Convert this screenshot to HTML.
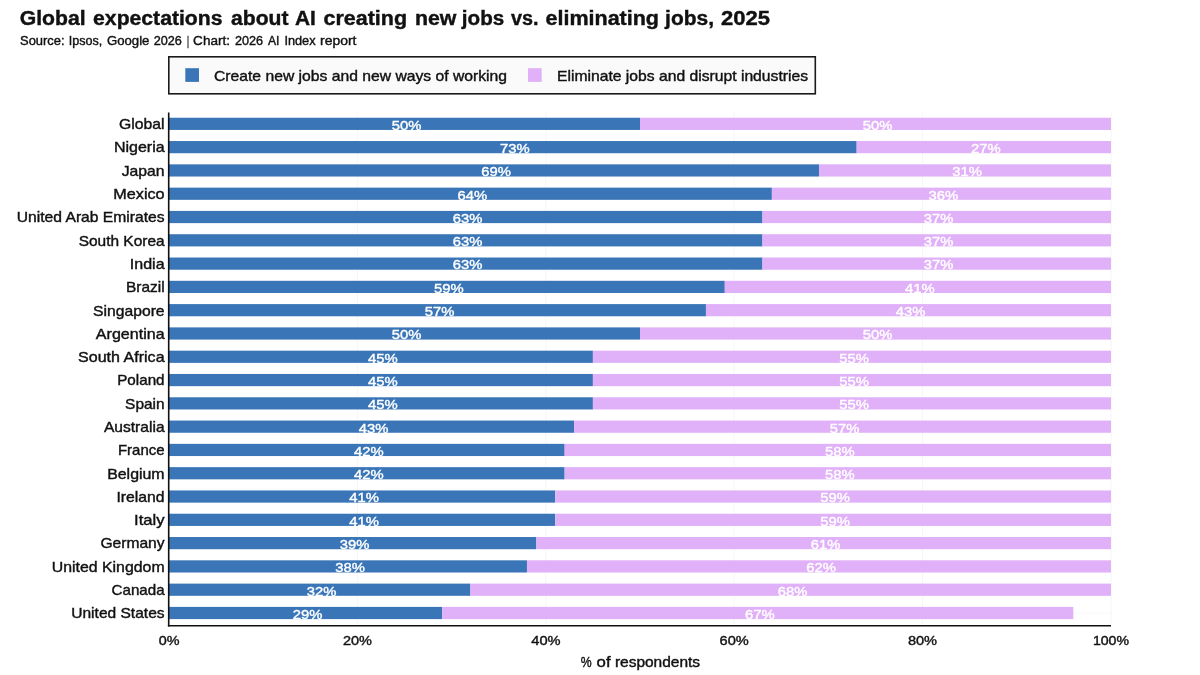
<!DOCTYPE html>
<html lang="en"><head><meta charset="utf-8"><title>Global expectations about AI creating new jobs vs. eliminating jobs, 2025</title>
<style>html,body{margin:0;padding:0;background:#fff}body{width:1200px;height:675px;overflow:hidden}svg{display:block;filter:blur(.35px)}text{font-family:"Liberation Sans",sans-serif;fill:#111;stroke:#111;stroke-width:.4px}.v{fill:#fff;stroke:#fff;font-size:13.6px;text-anchor:middle}.c{font-size:14.6px;text-anchor:end}.t{font-size:14px;text-anchor:middle}</style></head><body>
<svg width="1200" height="675" viewBox="0 0 1200 675">
<rect width="1200" height="675" fill="#fff"/>
<text y="24.6" font-size="20" font-weight="bold"><tspan x="19.75" textLength="65.86" lengthAdjust="spacingAndGlyphs">Global</tspan> <tspan x="93.10" textLength="129.41" lengthAdjust="spacingAndGlyphs">expectations</tspan> <tspan x="231.00" textLength="57.49" lengthAdjust="spacingAndGlyphs">about</tspan> <tspan x="295.00" textLength="20.80" lengthAdjust="spacingAndGlyphs">AI</tspan> <tspan x="323.50" textLength="83.50" lengthAdjust="spacingAndGlyphs">creating</tspan> <tspan x="415.00" textLength="41.45" lengthAdjust="spacingAndGlyphs">new</tspan> <tspan x="461.83" textLength="42.36" lengthAdjust="spacingAndGlyphs">jobs</tspan> <tspan x="511.00" textLength="27.50" lengthAdjust="spacingAndGlyphs">vs.</tspan> <tspan x="545.50" textLength="113.51" lengthAdjust="spacingAndGlyphs">eliminating</tspan> <tspan x="665.13" textLength="48.85" lengthAdjust="spacingAndGlyphs">jobs,</tspan> <tspan x="721.00" textLength="48.99" lengthAdjust="spacingAndGlyphs">2025</tspan></text>
<text y="44.7" font-size="13" ><tspan x="20.00" textLength="44.60" lengthAdjust="spacingAndGlyphs">Source:</tspan> <tspan x="68.75" textLength="33.50" lengthAdjust="spacingAndGlyphs">Ipsos,</tspan> <tspan x="106.90" textLength="42.50" lengthAdjust="spacingAndGlyphs">Google</tspan> <tspan x="153.75" textLength="28.15" lengthAdjust="spacingAndGlyphs">2026</tspan> <tspan x="187.00" textLength="2.00" lengthAdjust="spacingAndGlyphs">|</tspan> <tspan x="193.10" textLength="36.90" lengthAdjust="spacingAndGlyphs">Chart:</tspan> <tspan x="235.00" textLength="28.10" lengthAdjust="spacingAndGlyphs">2026</tspan> <tspan x="267.90" textLength="11.50" lengthAdjust="spacingAndGlyphs">AI</tspan> <tspan x="284.40" textLength="31.20" lengthAdjust="spacingAndGlyphs">Index</tspan> <tspan x="320.00" textLength="36.40" lengthAdjust="spacingAndGlyphs">report</tspan></text>
<rect x="168.8" y="56.8" width="646.5" height="37" fill="#fafafa" stroke="#1a1a1a" stroke-width="1.6"/>
<rect x="185.3" y="68.2" width="13.7" height="13.7" fill="#3a76b7"/>
<text x="214" y="81" font-size="15" textLength="293" lengthAdjust="spacingAndGlyphs">Create new jobs and new ways of working</text>
<rect x="528" y="68.2" width="13.7" height="13.7" fill="#e0b0f8"/>
<text x="557" y="81" font-size="15" textLength="251" lengthAdjust="spacingAndGlyphs">Eliminate jobs and disrupt industries</text>
<line x1="357.4" y1="112.4" x2="357.4" y2="625.5" stroke="#f6f6f6" stroke-width="1"/>
<line x1="545.8" y1="112.4" x2="545.8" y2="625.5" stroke="#f6f6f6" stroke-width="1"/>
<line x1="734.2" y1="112.4" x2="734.2" y2="625.5" stroke="#f6f6f6" stroke-width="1"/>
<line x1="922.6" y1="112.4" x2="922.6" y2="625.5" stroke="#f6f6f6" stroke-width="1"/>
<line x1="1111.0" y1="112.4" x2="1111.0" y2="625.5" stroke="#f6f6f6" stroke-width="1"/>
<line x1="169.0" y1="123.8" x2="1111.0" y2="123.8" stroke="#f9f9f9" stroke-width="1"/>
<line x1="169.0" y1="147.1" x2="1111.0" y2="147.1" stroke="#f9f9f9" stroke-width="1"/>
<line x1="169.0" y1="170.4" x2="1111.0" y2="170.4" stroke="#f9f9f9" stroke-width="1"/>
<line x1="169.0" y1="193.7" x2="1111.0" y2="193.7" stroke="#f9f9f9" stroke-width="1"/>
<line x1="169.0" y1="217.0" x2="1111.0" y2="217.0" stroke="#f9f9f9" stroke-width="1"/>
<line x1="169.0" y1="240.3" x2="1111.0" y2="240.3" stroke="#f9f9f9" stroke-width="1"/>
<line x1="169.0" y1="263.6" x2="1111.0" y2="263.6" stroke="#f9f9f9" stroke-width="1"/>
<line x1="169.0" y1="286.9" x2="1111.0" y2="286.9" stroke="#f9f9f9" stroke-width="1"/>
<line x1="169.0" y1="310.2" x2="1111.0" y2="310.2" stroke="#f9f9f9" stroke-width="1"/>
<line x1="169.0" y1="333.5" x2="1111.0" y2="333.5" stroke="#f9f9f9" stroke-width="1"/>
<line x1="169.0" y1="356.8" x2="1111.0" y2="356.8" stroke="#f9f9f9" stroke-width="1"/>
<line x1="169.0" y1="380.1" x2="1111.0" y2="380.1" stroke="#f9f9f9" stroke-width="1"/>
<line x1="169.0" y1="403.4" x2="1111.0" y2="403.4" stroke="#f9f9f9" stroke-width="1"/>
<line x1="169.0" y1="426.7" x2="1111.0" y2="426.7" stroke="#f9f9f9" stroke-width="1"/>
<line x1="169.0" y1="450.0" x2="1111.0" y2="450.0" stroke="#f9f9f9" stroke-width="1"/>
<line x1="169.0" y1="473.2" x2="1111.0" y2="473.2" stroke="#f9f9f9" stroke-width="1"/>
<line x1="169.0" y1="496.5" x2="1111.0" y2="496.5" stroke="#f9f9f9" stroke-width="1"/>
<line x1="169.0" y1="519.8" x2="1111.0" y2="519.8" stroke="#f9f9f9" stroke-width="1"/>
<line x1="169.0" y1="543.1" x2="1111.0" y2="543.1" stroke="#f9f9f9" stroke-width="1"/>
<line x1="169.0" y1="566.4" x2="1111.0" y2="566.4" stroke="#f9f9f9" stroke-width="1"/>
<line x1="169.0" y1="589.7" x2="1111.0" y2="589.7" stroke="#f9f9f9" stroke-width="1"/>
<line x1="169.0" y1="613.0" x2="1111.0" y2="613.0" stroke="#f9f9f9" stroke-width="1"/>
<rect x="169.0" y="117.75" width="471.00" height="12.20" fill="#3a76b7"/>
<rect x="640.00" y="117.75" width="471.00" height="12.20" fill="#e0b0f8"/>
<text class="c" x="164.6" y="129.2" textLength="45.53" lengthAdjust="spacingAndGlyphs">Global</text>
<text class="v" x="406.5" y="129.7" textLength="29.67" lengthAdjust="spacingAndGlyphs">50%</text>
<text class="v" x="877.5" y="129.7" textLength="29.67" lengthAdjust="spacingAndGlyphs">50%</text>
<rect x="169.0" y="141.04" width="687.66" height="12.20" fill="#3a76b7"/>
<rect x="856.66" y="141.04" width="254.34" height="12.20" fill="#e0b0f8"/>
<text class="c" x="164.6" y="152.4" textLength="50.70" lengthAdjust="spacingAndGlyphs">Nigeria</text>
<text class="v" x="514.8" y="152.9" textLength="29.67" lengthAdjust="spacingAndGlyphs">73%</text>
<text class="v" x="985.8" y="152.9" textLength="29.67" lengthAdjust="spacingAndGlyphs">27%</text>
<rect x="169.0" y="164.34" width="649.98" height="12.20" fill="#3a76b7"/>
<rect x="818.98" y="164.34" width="292.02" height="12.20" fill="#e0b0f8"/>
<text class="c" x="164.6" y="175.7" textLength="42.91" lengthAdjust="spacingAndGlyphs">Japan</text>
<text class="v" x="496.0" y="176.2" textLength="29.67" lengthAdjust="spacingAndGlyphs">69%</text>
<text class="v" x="967.0" y="176.2" textLength="29.67" lengthAdjust="spacingAndGlyphs">31%</text>
<rect x="169.0" y="187.63" width="602.88" height="12.20" fill="#3a76b7"/>
<rect x="771.88" y="187.63" width="339.12" height="12.20" fill="#e0b0f8"/>
<text class="c" x="164.6" y="199.0" textLength="51.31" lengthAdjust="spacingAndGlyphs">Mexico</text>
<text class="v" x="472.4" y="199.5" textLength="29.67" lengthAdjust="spacingAndGlyphs">64%</text>
<text class="v" x="943.4" y="199.5" textLength="29.67" lengthAdjust="spacingAndGlyphs">36%</text>
<rect x="169.0" y="210.92" width="593.46" height="12.20" fill="#3a76b7"/>
<rect x="762.46" y="210.92" width="348.54" height="12.20" fill="#e0b0f8"/>
<text class="c" x="164.6" y="222.3" textLength="147.83" lengthAdjust="spacingAndGlyphs">United Arab Emirates</text>
<text class="v" x="467.7" y="222.8" textLength="29.67" lengthAdjust="spacingAndGlyphs">63%</text>
<text class="v" x="938.7" y="222.8" textLength="29.67" lengthAdjust="spacingAndGlyphs">37%</text>
<rect x="169.0" y="234.22" width="593.46" height="12.20" fill="#3a76b7"/>
<rect x="762.46" y="234.22" width="348.54" height="12.20" fill="#e0b0f8"/>
<text class="c" x="164.6" y="245.6" textLength="85.90" lengthAdjust="spacingAndGlyphs">South Korea</text>
<text class="v" x="467.7" y="246.1" textLength="29.67" lengthAdjust="spacingAndGlyphs">63%</text>
<text class="v" x="938.7" y="246.1" textLength="29.67" lengthAdjust="spacingAndGlyphs">37%</text>
<rect x="169.0" y="257.51" width="593.46" height="12.20" fill="#3a76b7"/>
<rect x="762.46" y="257.51" width="348.54" height="12.20" fill="#e0b0f8"/>
<text class="c" x="164.6" y="268.9" textLength="34.80" lengthAdjust="spacingAndGlyphs">India</text>
<text class="v" x="467.7" y="269.4" textLength="29.67" lengthAdjust="spacingAndGlyphs">63%</text>
<text class="v" x="938.7" y="269.4" textLength="29.67" lengthAdjust="spacingAndGlyphs">37%</text>
<rect x="169.0" y="280.80" width="555.78" height="12.20" fill="#3a76b7"/>
<rect x="724.78" y="280.80" width="386.22" height="12.20" fill="#e0b0f8"/>
<text class="c" x="164.6" y="292.2" textLength="38.63" lengthAdjust="spacingAndGlyphs">Brazil</text>
<text class="v" x="448.9" y="292.7" textLength="29.67" lengthAdjust="spacingAndGlyphs">59%</text>
<text class="v" x="919.9" y="292.7" textLength="29.67" lengthAdjust="spacingAndGlyphs">41%</text>
<rect x="169.0" y="304.09" width="536.94" height="12.20" fill="#3a76b7"/>
<rect x="705.94" y="304.09" width="405.06" height="12.20" fill="#e0b0f8"/>
<text class="c" x="164.6" y="315.5" textLength="71.46" lengthAdjust="spacingAndGlyphs">Singapore</text>
<text class="v" x="439.5" y="316.0" textLength="29.67" lengthAdjust="spacingAndGlyphs">57%</text>
<text class="v" x="910.5" y="316.0" textLength="29.67" lengthAdjust="spacingAndGlyphs">43%</text>
<rect x="169.0" y="327.39" width="471.00" height="12.20" fill="#3a76b7"/>
<rect x="640.00" y="327.39" width="471.00" height="12.20" fill="#e0b0f8"/>
<text class="c" x="164.6" y="338.8" textLength="68.71" lengthAdjust="spacingAndGlyphs">Argentina</text>
<text class="v" x="406.5" y="339.3" textLength="29.67" lengthAdjust="spacingAndGlyphs">50%</text>
<text class="v" x="877.5" y="339.3" textLength="29.67" lengthAdjust="spacingAndGlyphs">50%</text>
<rect x="169.0" y="350.68" width="423.90" height="12.20" fill="#3a76b7"/>
<rect x="592.90" y="350.68" width="518.10" height="12.20" fill="#e0b0f8"/>
<text class="c" x="164.6" y="362.1" textLength="86.54" lengthAdjust="spacingAndGlyphs">South Africa</text>
<text class="v" x="382.9" y="362.6" textLength="29.67" lengthAdjust="spacingAndGlyphs">45%</text>
<text class="v" x="854.0" y="362.6" textLength="29.67" lengthAdjust="spacingAndGlyphs">55%</text>
<rect x="169.0" y="373.97" width="423.90" height="12.20" fill="#3a76b7"/>
<rect x="592.90" y="373.97" width="518.10" height="12.20" fill="#e0b0f8"/>
<text class="c" x="164.6" y="385.4" textLength="47.41" lengthAdjust="spacingAndGlyphs">Poland</text>
<text class="v" x="382.9" y="385.9" textLength="29.67" lengthAdjust="spacingAndGlyphs">45%</text>
<text class="v" x="854.0" y="385.9" textLength="29.67" lengthAdjust="spacingAndGlyphs">55%</text>
<rect x="169.0" y="397.27" width="423.90" height="12.20" fill="#3a76b7"/>
<rect x="592.90" y="397.27" width="518.10" height="12.20" fill="#e0b0f8"/>
<text class="c" x="164.6" y="408.7" textLength="39.52" lengthAdjust="spacingAndGlyphs">Spain</text>
<text class="v" x="382.9" y="409.2" textLength="29.67" lengthAdjust="spacingAndGlyphs">45%</text>
<text class="v" x="854.0" y="409.2" textLength="29.67" lengthAdjust="spacingAndGlyphs">55%</text>
<rect x="169.0" y="420.56" width="405.06" height="12.20" fill="#3a76b7"/>
<rect x="574.06" y="420.56" width="536.94" height="12.20" fill="#e0b0f8"/>
<text class="c" x="164.6" y="432.0" textLength="60.69" lengthAdjust="spacingAndGlyphs">Australia</text>
<text class="v" x="373.5" y="432.5" textLength="29.67" lengthAdjust="spacingAndGlyphs">43%</text>
<text class="v" x="844.5" y="432.5" textLength="29.67" lengthAdjust="spacingAndGlyphs">57%</text>
<rect x="169.0" y="443.85" width="395.64" height="12.20" fill="#3a76b7"/>
<rect x="564.64" y="443.85" width="546.36" height="12.20" fill="#e0b0f8"/>
<text class="c" x="164.6" y="455.3" textLength="46.68" lengthAdjust="spacingAndGlyphs">France</text>
<text class="v" x="368.8" y="455.8" textLength="29.67" lengthAdjust="spacingAndGlyphs">42%</text>
<text class="v" x="839.8" y="455.8" textLength="29.67" lengthAdjust="spacingAndGlyphs">58%</text>
<rect x="169.0" y="467.14" width="395.64" height="12.20" fill="#3a76b7"/>
<rect x="564.64" y="467.14" width="546.36" height="12.20" fill="#e0b0f8"/>
<text class="c" x="164.6" y="478.5" textLength="57.44" lengthAdjust="spacingAndGlyphs">Belgium</text>
<text class="v" x="368.8" y="479.0" textLength="29.67" lengthAdjust="spacingAndGlyphs">42%</text>
<text class="v" x="839.8" y="479.0" textLength="29.67" lengthAdjust="spacingAndGlyphs">58%</text>
<rect x="169.0" y="490.44" width="386.22" height="12.20" fill="#3a76b7"/>
<rect x="555.22" y="490.44" width="555.78" height="12.20" fill="#e0b0f8"/>
<text class="c" x="164.6" y="501.8" textLength="48.16" lengthAdjust="spacingAndGlyphs">Ireland</text>
<text class="v" x="364.1" y="502.3" textLength="29.67" lengthAdjust="spacingAndGlyphs">41%</text>
<text class="v" x="835.1" y="502.3" textLength="29.67" lengthAdjust="spacingAndGlyphs">59%</text>
<rect x="169.0" y="513.73" width="386.22" height="12.20" fill="#3a76b7"/>
<rect x="555.22" y="513.73" width="555.78" height="12.20" fill="#e0b0f8"/>
<text class="c" x="164.6" y="525.1" textLength="30.54" lengthAdjust="spacingAndGlyphs">Italy</text>
<text class="v" x="364.1" y="525.6" textLength="29.67" lengthAdjust="spacingAndGlyphs">41%</text>
<text class="v" x="835.1" y="525.6" textLength="29.67" lengthAdjust="spacingAndGlyphs">59%</text>
<rect x="169.0" y="537.02" width="367.38" height="12.20" fill="#3a76b7"/>
<rect x="536.38" y="537.02" width="574.62" height="12.20" fill="#e0b0f8"/>
<text class="c" x="164.6" y="548.4" textLength="64.15" lengthAdjust="spacingAndGlyphs">Germany</text>
<text class="v" x="354.7" y="548.9" textLength="29.67" lengthAdjust="spacingAndGlyphs">39%</text>
<text class="v" x="825.7" y="548.9" textLength="29.67" lengthAdjust="spacingAndGlyphs">61%</text>
<rect x="169.0" y="560.32" width="357.96" height="12.20" fill="#3a76b7"/>
<rect x="526.96" y="560.32" width="584.04" height="12.20" fill="#e0b0f8"/>
<text class="c" x="164.6" y="571.7" textLength="112.81" lengthAdjust="spacingAndGlyphs">United Kingdom</text>
<text class="v" x="350.0" y="572.2" textLength="29.67" lengthAdjust="spacingAndGlyphs">38%</text>
<text class="v" x="821.0" y="572.2" textLength="29.67" lengthAdjust="spacingAndGlyphs">62%</text>
<rect x="169.0" y="583.61" width="301.44" height="12.20" fill="#3a76b7"/>
<rect x="470.44" y="583.61" width="640.56" height="12.20" fill="#e0b0f8"/>
<text class="c" x="164.6" y="595.0" textLength="53.07" lengthAdjust="spacingAndGlyphs">Canada</text>
<text class="v" x="321.7" y="595.5" textLength="29.67" lengthAdjust="spacingAndGlyphs">32%</text>
<text class="v" x="792.7" y="595.5" textLength="29.67" lengthAdjust="spacingAndGlyphs">68%</text>
<rect x="169.0" y="606.90" width="273.18" height="12.20" fill="#3a76b7"/>
<rect x="442.18" y="606.90" width="631.14" height="12.20" fill="#e0b0f8"/>
<text class="c" x="164.6" y="618.3" textLength="93.38" lengthAdjust="spacingAndGlyphs">United States</text>
<text class="v" x="307.6" y="618.8" textLength="29.67" lengthAdjust="spacingAndGlyphs">29%</text>
<text class="v" x="759.8" y="618.8" textLength="29.67" lengthAdjust="spacingAndGlyphs">67%</text>
<line x1="168.7" y1="112.4" x2="168.7" y2="626.5" stroke="#111" stroke-width="1.6"/>
<line x1="167.9" y1="625.7" x2="1111.0" y2="625.7" stroke="#111" stroke-width="1.6"/>
<text x="158.80" y="645" font-size="13.4" textLength="20.80" lengthAdjust="spacingAndGlyphs">0%</text>
<text x="343.00" y="645" font-size="13.4" textLength="29.01" lengthAdjust="spacingAndGlyphs">20%</text>
<text x="531.30" y="645" font-size="13.4" textLength="29.31" lengthAdjust="spacingAndGlyphs">40%</text>
<text x="719.60" y="645" font-size="13.4" textLength="29.21" lengthAdjust="spacingAndGlyphs">60%</text>
<text x="907.90" y="645" font-size="13.4" textLength="29.21" lengthAdjust="spacingAndGlyphs">80%</text>
<text x="1092.90" y="645" font-size="13.4" textLength="36.09" lengthAdjust="spacingAndGlyphs">100%</text>
<text y="667" font-size="14" ><tspan x="580.70" textLength="10.90" lengthAdjust="spacingAndGlyphs">%</tspan> <tspan x="596.60" textLength="13.97" lengthAdjust="spacingAndGlyphs">of</tspan> <tspan x="614.90" textLength="85.20" lengthAdjust="spacingAndGlyphs">respondents</tspan></text>
</svg></body></html>
